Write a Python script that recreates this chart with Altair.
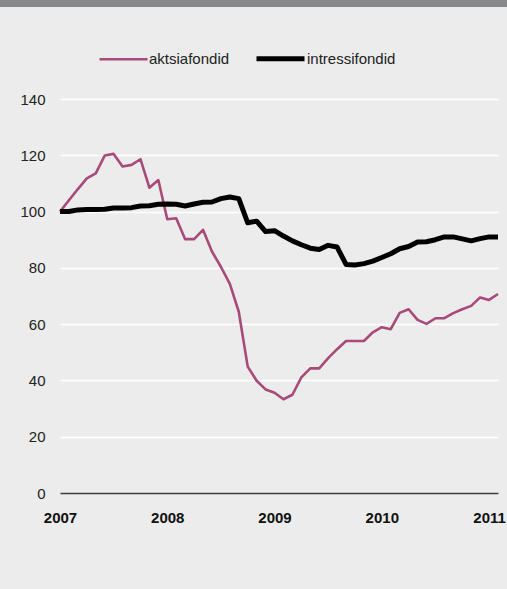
import altair as alt
import pandas as pd

series_names = ["aktsiafondid", "intressifondid"]
series_colors = ["#a84a7a", "#000000"]
series_widths = [2.6, 5.0]
year_ticks = [2007, 2008, 2009, 2010, 2011]
y_ticks = [0, 20, 40, 60, 80, 100, 120, 140]
start_year = 2007

# monthly values, Jan 2007 .. Feb 2011
aktsia = [100, 104, 108, 111.8, 113.6, 119.9, 120.5, 116, 116.6, 118.6, 108.5, 111.2,
          97.3, 97.6, 90.2, 90.2, 93.5, 85.8, 80.4, 74.3, 64.4, 44.9, 39.9, 36.8,
          35.6, 33.3, 34.9, 41.1, 44.3, 44.3, 47.9, 51.1, 54, 54, 54, 57.1,
          58.9, 58.2, 64, 65.3, 61.5, 60.1, 62.1, 62.1, 63.9, 65.3, 66.5, 69.5,
          68.6, 70.7]
intressi = [100, 100, 100.6, 100.7, 100.7, 100.8, 101.3, 101.3, 101.4, 102, 102.1, 102.6,
            102.7, 102.6, 102.0, 102.7, 103.3, 103.4, 104.6, 105.2, 104.6, 96, 96.6, 92.9,
            93.2, 91.3, 89.6, 88.2, 87, 86.5, 88, 87.4, 81.2, 81, 81.5, 82.4,
            83.7, 85, 86.8, 87.6, 89.2, 89.3, 90, 91, 91, 90.3, 89.6, 90.4,
            91, 91]

n = len(aktsia)
months = [start_year + i / 12 for i in range(n)]
df = pd.DataFrame({
    "t": months + months,
    "value": aktsia + intressi,
    "series": [series_names[0]] * n + [series_names[1]] * n,
})

FONT = "Liberation Sans"

legend_opts = dict(orient="none", direction="horizontal",
                   legendX=38, legendY=-67, title=None,
                   symbolType="stroke", symbolSize=2304,
                   labelFontSize=15, labelFont=FONT,
                   labelColor="#222", labelOffset=0,
                   columnPadding=16, padding=0)

lines = alt.Chart(df).mark_line(strokeJoin="round").encode(
    x=alt.X("t:Q",
            scale=alt.Scale(domain=[start_year, months[-1]], nice=False, zero=False),
            axis=alt.Axis(values=year_ticks, format="d", title=None, grid=False,
                          ticks=False, domain=True, domainColor="#3a3a3a",
                          domainWidth=1.5, labelFontWeight="bold", labelFontSize=15,
                          labelColor="#111", labelPadding=17, labelFlush=False,
                          labelFont=FONT)),
    y=alt.Y("value:Q",
            scale=alt.Scale(domain=[0, 140], nice=False),
            axis=alt.Axis(values=y_ticks, title=None, grid=True, gridColor="#ffffff",
                          gridWidth=1.3, domain=False, ticks=False, labelPadding=15,
                          labelFontSize=15, labelColor="#222", labelFont=FONT)),
    color=alt.Color("series:N",
                    scale=alt.Scale(domain=series_names, range=series_colors),
                    legend=alt.Legend(**legend_opts)),
    strokeWidth=alt.StrokeWidth("series:N",
                                scale=alt.Scale(domain=series_names, range=series_widths),
                                legend=alt.Legend(**legend_opts)),
    order=alt.Order("t:Q"),
)

top_bar = alt.Chart(pd.DataFrame({"a": [0]})).mark_rule(
    color="#87888a", strokeWidth=7
).encode(x=alt.value(-60), x2=alt.value(447), y=alt.value(-95.5))

chart = alt.layer(lines, top_bar).properties(
    width=438, height=394,
    padding={"left": 60, "top": 99, "right": 9, "bottom": 96},
    autosize=alt.AutoSizeParams(type="none"),
    background="#ebeceb",
).configure_view(stroke=None)

chart.save("out.html", embed_options={"renderer": "svg", "actions": False})
